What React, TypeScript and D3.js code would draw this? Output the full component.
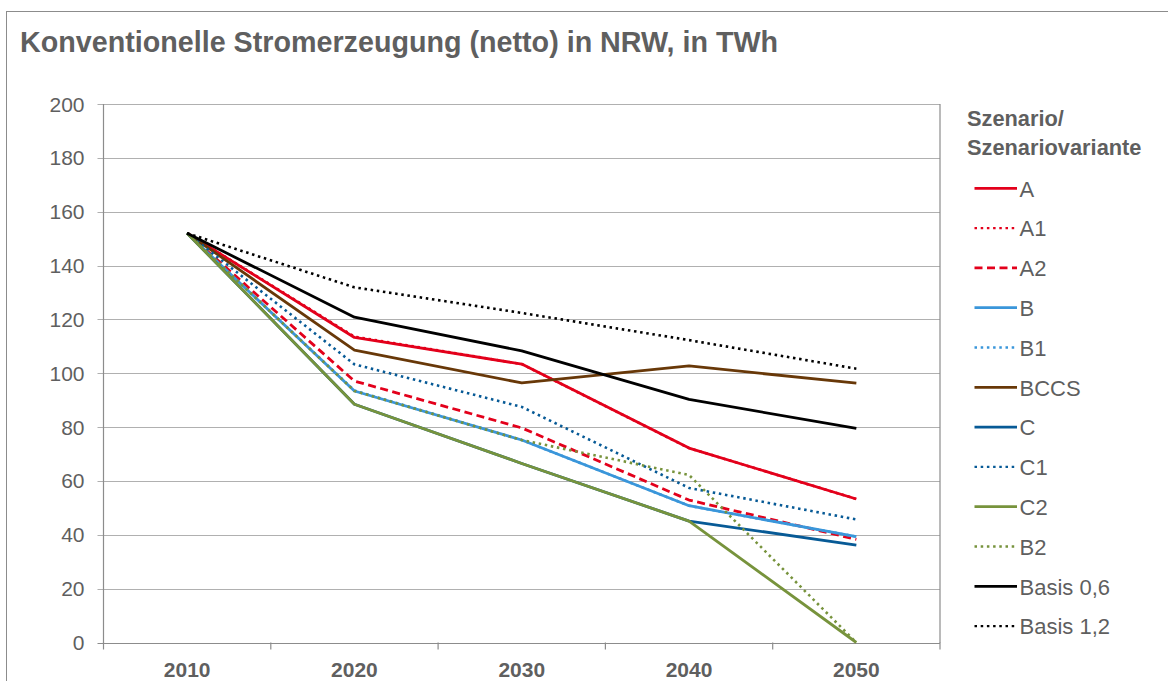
import React from "react";
import * as d3 from "d3";

const years = ["2010", "2020", "2030", "2040", "2050"];
const yTicks = [0, 20, 40, 60, 80, 100, 120, 140, 160, 180, 200];

const seriesNames = ["A", "A1", "A2", "B", "B1", "BCCS", "C", "C1", "C2", "B2", "Basis 0,6", "Basis 1,2"];
const vA = [152, 113.3, 103.4, 72.2, 53.3];
const vA1 = [152, 113.6, 103.4, 72.2, 53.3];
const vA2 = [152, 97.1, 79.7, 52.9, 38.3];
const vB = [152, 93.4, 75.2, 50.8, 39.3];
const vB1 = [152, 93.6, 75.2, 50.8, 39.3];
const vBCCS = [152, 108.6, 96.4, 102.7, 96.3];
const vC = [152, 88.5, 66.5, 45.1, 36.2];
const vC1 = [152, 103.3, 87.5, 57.4, 45.7];
const vC2 = [152, 88.5, 66.5, 45.1, 0];
const vB2 = [152, 93.4, 75.2, 62.2, 0];
const vBasis06 = [152, 120.8, 108.3, 90.3, 79.5];
const vBasis12 = [152, 131.9, 122.4, 112.3, 101.7];

const seriesValues = [vA, vA1, vA2, vB, vB1, vBCCS, vC, vC1, vC2, vB2, vBasis06, vBasis12];

const RED = "#E3001B";
const LBLUE = "#3A96DA";
const BROWN = "#683808";
const DBLUE = "#075A96";
const GREEN = "#77933C";
const BLACK = "#000000";

const styles = [
  { color: RED, dash: "" },
  { color: RED, dash: "2.5,3.7" },
  { color: RED, dash: "8,4.5" },
  { color: LBLUE, dash: "" },
  { color: LBLUE, dash: "2.5,3.7" },
  { color: BROWN, dash: "" },
  { color: DBLUE, dash: "" },
  { color: DBLUE, dash: "2.5,3.7" },
  { color: GREEN, dash: "" },
  { color: GREEN, dash: "2.5,3.7" },
  { color: BLACK, dash: "" },
  { color: BLACK, dash: "2.5,3.7" },
];

const FONT = "'Liberation Sans', Arial, sans-serif";
const TXT = "#5f5f5f";

export default function App() {
  const left = 103.5;
  const right = 940;
  const top = 104;
  const bottom = 642.5;

  const x = d3.scalePoint<string>().domain(years).range([left, right]).padding(0.5);
  const y = d3.scaleLinear().domain([0, 200]).range([bottom, top]);
  const step = x.step();

  const line = d3
    .line<number>()
    .x((_, i) => x(years[i]) as number)
    .y((d) => y(d));

  const boundaries = d3.range(years.length + 1).map((i) => left + i * step);

  return (
    <svg
      width={1168}
      height={681}
      style={{ position: "absolute", left: 0, top: 0, background: "#fff" }}
      fontFamily={FONT}
    >
      <rect x={6.5} y={11.5} width={1300} height={800} fill="#fff" stroke="#8c8c8c" strokeWidth={1} />
      <text x={20} y={52} fontSize={28.7} fontWeight="bold" fill={TXT}>
        Konventionelle Stromerzeugung (netto) in NRW, in TWh
      </text>

      {/* gridlines */}
      {yTicks.map((t) => (
        <line
          key={"g" + t}
          x1={left - 6}
          x2={right}
          y1={Math.round(y(t)) + 0.5}
          y2={Math.round(y(t)) + 0.5}
          stroke={t === 0 ? "#8c8c8c" : "#b0b0b0"}
          strokeWidth={1.2}
        />
      ))}
      {/* axes */}
      <line x1={left} x2={left} y1={top} y2={bottom + 0.5} stroke="#8c8c8c" strokeWidth={1.2} />
      <line x1={right} x2={right} y1={top} y2={bottom + 0.5} stroke="#8c8c8c" strokeWidth={1.2} />
      {boundaries.map((b, i) => (
        <line key={"xt" + i} x1={b} x2={b} y1={bottom} y2={bottom + 7} stroke="#8c8c8c" strokeWidth={1.2} />
      ))}
      {yTicks.map((t) => (
        <text key={"yl" + t} x={84.5} y={y(t) + 7.5} fontSize={21} textAnchor="end" fill={TXT}>
          {t}
        </text>
      ))}
      {years.map((yr) => (
        <text key={"xl" + yr} x={x(yr)} y={677} fontSize={21} fontWeight="bold" textAnchor="middle" fill={TXT}>
          {yr}
        </text>
      ))}

      {/* series */}
      {seriesValues.map((vals, i) => (
        <path
          key={"s" + i}
          d={line(vals) || ""}
          fill="none"
          stroke={styles[i].color}
          strokeWidth={styles[i].dash && styles[i].dash.startsWith("2.5") ? 2.6 : 2.8}
          strokeDasharray={styles[i].dash || undefined}
          strokeLinejoin="round"
        />
      ))}

      {/* legend */}
      <text x={967} y={125.7} fontSize={21.8} fontWeight="bold" fill={TXT}>
        Szenario/
      </text>
      <text x={967} y={155} fontSize={21.8} fontWeight="bold" fill={TXT}>
        Szenariovariante
      </text>
      {seriesNames.map((name, i) => {
        const cy = 188.3 + i * 39.8;
        return (
          <g key={"l" + i}>
            <line
              x1={974.5}
              x2={1017}
              y1={cy}
              y2={cy}
              stroke={styles[i].color}
              strokeWidth={styles[i].dash && styles[i].dash.startsWith("2.5") ? 2.4 : 2.8}
              strokeDasharray={styles[i].dash || undefined}
            />
            <text x={1019.5} y={cy + 8.2} fontSize={22} fill={TXT}>
              {name}
            </text>
          </g>
        );
      })}
    </svg>
  );
}
